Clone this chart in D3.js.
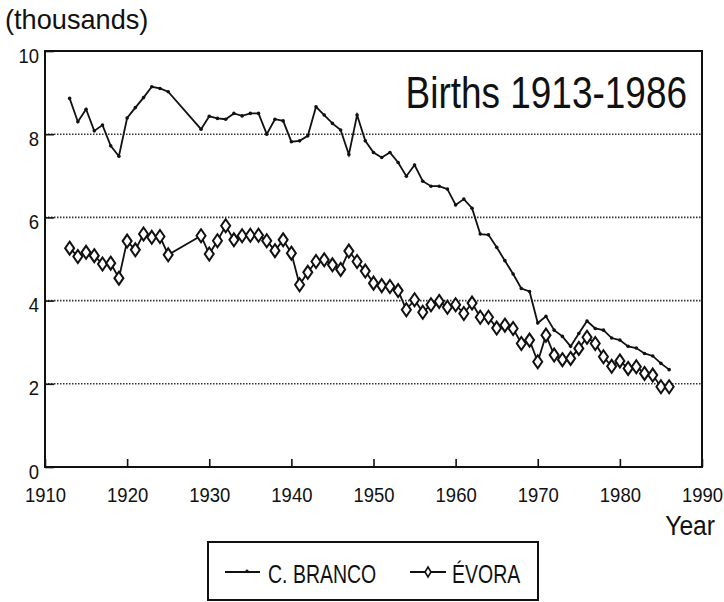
<!DOCTYPE html>
<html lang="en">
<head>
    <meta charset="UTF-8">
    <title>Births 1913-1986</title>
    <script src="https://cdn.jsdelivr.net/npm/d3@7"></script>
    <style>
      body {
        margin: 0;
        background: #fff;
        font-family: 'Liberation Sans', Arial, sans-serif;
      }
    </style>
</head>
<body>
    <svg id="chart"></svg>
    <script>

    // years with data (1926-1928 missing in the source)
    const years = [1913, 1914, 1915, 1916, 1917, 1918, 1919, 1920, 1921, 1922, 1923, 1924, 1925,
        1929, 1930, 1931, 1932, 1933, 1934, 1935, 1936, 1937, 1938, 1939, 1940,
        1941, 1942, 1943, 1944, 1945, 1946, 1947, 1948, 1949, 1950,
        1951, 1952, 1953, 1954, 1955, 1956, 1957, 1958, 1959, 1960,
        1961, 1962, 1963, 1964, 1965, 1966, 1967, 1968, 1969, 1970,
        1971, 1972, 1973, 1974, 1975, 1976, 1977, 1978, 1979, 1980,
        1981, 1982, 1983, 1984, 1985, 1986];

    const cBranco = [8.86, 8.30, 8.60, 8.08, 8.22, 7.72, 7.47, 8.39, 8.64, 8.88, 9.14, 9.10, 9.02,
        8.12, 8.43, 8.38, 8.36, 8.50, 8.44, 8.50, 8.50, 8.00, 8.36, 8.32, 7.82,
        7.84, 7.96, 8.66, 8.46, 8.26, 8.10, 7.51, 8.46, 7.84, 7.56,
        7.44, 7.56, 7.32, 6.99, 7.26, 6.87, 6.75, 6.75, 6.68, 6.30,
        6.44, 6.22, 5.60, 5.58, 5.28, 4.96, 4.64, 4.29, 4.22, 3.46,
        3.62, 3.29, 3.14, 2.90, 3.21, 3.51, 3.33, 3.29, 3.10, 3.05,
        2.90, 2.86, 2.73, 2.67, 2.49, 2.34];

    const evora = [5.26, 5.06, 5.16, 5.08, 4.88, 4.90, 4.54, 5.43, 5.22, 5.60, 5.52, 5.54, 5.10,
        5.56, 5.12, 5.44, 5.80, 5.46, 5.56, 5.57, 5.57, 5.44, 5.20, 5.46, 5.14,
        4.38, 4.68, 4.94, 4.98, 4.86, 4.75, 5.19, 4.94, 4.71, 4.42,
        4.36, 4.34, 4.24, 3.78, 4.02, 3.72, 3.90, 3.98, 3.84, 3.90,
        3.69, 3.94, 3.60, 3.60, 3.34, 3.41, 3.33, 2.97, 3.05, 2.53,
        3.17, 2.69, 2.58, 2.61, 2.85, 3.12, 2.97, 2.65, 2.42, 2.55,
        2.37, 2.41, 2.25, 2.21, 1.93, 1.93];

    const xTicks = [1910, 1920, 1930, 1940, 1950, 1960, 1970, 1980, 1990];
    const yTicks = [0, 2, 4, 6, 8, 10];
    const seriesNames = ['C. BRANCO', 'ÉVORA'];

    const W = 724, H = 602;
    const margin = { top: 51, right: 22, bottom: 135, left: 45 };
    const width = W - margin.left - margin.right;
    const height = H - margin.top - margin.bottom;

    const svg = d3.select('#chart')
        .attr('width', W)
        .attr('height', H);

    const g = svg.append('g')
        .attr('transform', `translate(${margin.left},${margin.top})`);

    const x = d3.scaleLinear().domain([1910, 1990]).range([0, width]);
    const y = d3.scaleLinear().domain([0, 10]).range([height, 0]);

    // narrow text: the original uses a condensed Helvetica
    function narrowText(parent, tx, ty, str, size, sx, anchor) {
        return parent.append('text')
            .attr('transform', `translate(${tx},${ty}) scale(${sx},1)`)
            .attr('text-anchor', anchor || 'start')
            .style('font-size', size + 'px')
            .attr('fill', '#111')
            .text(str);
    }

    // dotted gridlines
    g.selectAll('.grid')
        .data(yTicks.filter(d => d > 0 && d < 10))
        .enter().append('line')
        .attr('x1', 0).attr('x2', width)
        .attr('y1', d => y(d)).attr('y2', d => y(d))
        .attr('stroke', '#333')
        .attr('stroke-width', 1.6)
        .attr('stroke-dasharray', '1.5,1.5');

    // y axis: ticks inside, labels left
    const yAxis = g.append('g')
        .call(d3.axisLeft(y).tickValues(yTicks).tickSize(-9).tickSizeOuter(0));
    yAxis.select('.domain').remove();
    yAxis.selectAll('line').attr('stroke', '#111').attr('stroke-width', 1.6);
    yAxis.selectAll('text')
        .attr('x', 0)
        .attr('dy', 0)
        .attr('transform', 'translate(-6,11) scale(0.88,1)')
        .style('font-size', '21px')
        .attr('fill', '#111');

    // x axis: ticks pointing up
    const xAxis = g.append('g')
        .attr('transform', `translate(0,${height})`)
        .call(d3.axisBottom(x).tickValues(xTicks).tickFormat(d3.format('d')).tickSize(-8).tickSizeOuter(0));
    xAxis.select('.domain').remove();
    xAxis.selectAll('line').attr('stroke', '#111').attr('stroke-width', 1.6);
    xAxis.selectAll('text')
        .attr('y', 0)
        .attr('dy', 0)
        .attr('transform', 'translate(0,35) scale(0.88,1)')
        .style('font-size', '21px')
        .attr('fill', '#111');

    // plot frame
    g.append('rect')
        .attr('x', 0).attr('y', 0)
        .attr('width', width).attr('height', height)
        .attr('fill', 'none')
        .attr('stroke', '#111')
        .attr('stroke-width', 2);

    const cbData = years.map((yr, i) => ({ year: yr, v: cBranco[i] }));
    const evData = years.map((yr, i) => ({ year: yr, v: evora[i] }));

    const line = d3.line().x(d => x(d.year)).y(d => y(d.v));

    // C. Branco: plain line with tiny dots
    g.append('path')
        .datum(cbData)
        .attr('d', line)
        .attr('fill', 'none')
        .attr('stroke', '#111')
        .attr('stroke-width', 1.8);

    g.selectAll('.cb-dot')
        .data(cbData)
        .enter().append('circle')
        .attr('class', 'cb-dot')
        .attr('cx', d => x(d.year))
        .attr('cy', d => y(d.v))
        .attr('r', 1.8)
        .attr('fill', '#111');

    // Evora: line with hollow diamonds
    g.append('path')
        .datum(evData)
        .attr('d', line)
        .attr('fill', 'none')
        .attr('stroke', '#111')
        .attr('stroke-width', 1.8);

    const diamond = 'M0,-6.5L4.5,0L0,6.5L-4.5,0Z';
    g.selectAll('.ev-dot')
        .data(evData)
        .enter().append('path')
        .attr('class', 'ev-dot')
        .attr('d', diamond)
        .attr('transform', d => `translate(${x(d.year)},${y(d.v)})`)
        .attr('fill', '#fff')
        .attr('stroke', '#111')
        .attr('stroke-width', 2);

    // texts
    narrowText(svg, 687, 108, 'Births 1913-1986', 44, 0.84, 'end');
    narrowText(svg, 5, 29, '(thousands)', 28, 0.97, 'start');
    narrowText(svg, 715, 535, 'Year', 28, 0.88, 'end');

    // legend
    const leg = svg.append('g');
    leg.append('rect')
        .attr('x', 208).attr('y', 542)
        .attr('width', 330).attr('height', 58)
        .attr('fill', 'none')
        .attr('stroke', '#111')
        .attr('stroke-width', 2);

    const legItems = [
        { name: seriesNames[0], x0: 225, x1: 260, tx: 268, marker: 'dot' },
        { name: seriesNames[1], x0: 410, x1: 446, tx: 452, marker: 'diamond' }
    ];
    legItems.forEach(it => {
        leg.append('line')
            .attr('x1', it.x0).attr('x2', it.x1)
            .attr('y1', 572).attr('y2', 572)
            .attr('stroke', '#111').attr('stroke-width', 1.8);
        if (it.marker === 'dot') {
            leg.append('circle').attr('cx', it.x0 + 22).attr('cy', 571).attr('r', 1.6).attr('fill', '#111');
        } else {
            leg.append('path').attr('d', 'M0,-5L3,0L0,5L-3,0Z')
                .attr('transform', `translate(${it.x0 + 18},572)`)
                .attr('fill', '#fff').attr('stroke', '#111').attr('stroke-width', 1.6);
        }
        narrowText(leg, it.tx, 583, it.name, 25, 0.78, 'start');
    });

    </script>
</body>
</html>
